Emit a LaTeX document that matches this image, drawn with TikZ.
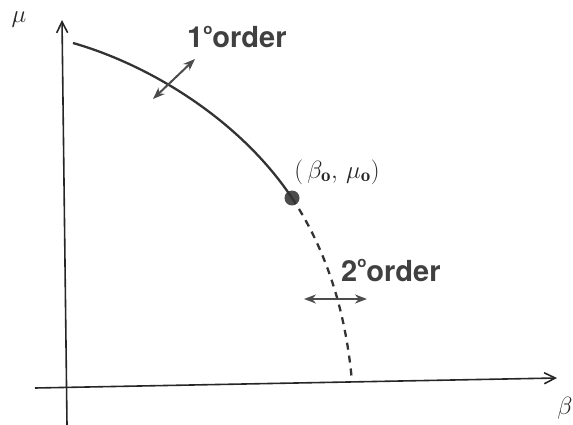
\documentclass[tikz,border=0pt]{standalone}
\usepackage{fontspec}
\newfontfamily\heros{TeX Gyre Heros}
\usetikzlibrary{arrows.meta}
\begin{document}
\begin{tikzpicture}[x=1pt,y=-1pt,
  axis/.style={line width=1.6pt,draw=black!85},
  curve/.style={line width=2.3pt,draw=black!80},
  dbl/.style={line width=2pt,draw=black!70,{Stealth[length=12pt,width=9pt]}-{Stealth[length=12pt,width=9pt]}},
  lab/.style={font=\heros\bfseries\fontsize{29}{29}\selectfont,text=black!75,inner sep=0pt},
  mlab/.style={inner sep=0pt,text=black!85}]
\useasboundingbox (0,0) rectangle (573,425);
% axes
\coordinate (ybot) at (67,425);
\coordinate (ytop) at (62,20);
\coordinate (xleft) at (35,388);
\coordinate (xright) at (557,378);
\draw[axis,-{Straight Barb[length=11pt,width=11pt]}] (ybot) -- (ytop);
\draw[axis,-{Straight Barb[length=11pt,width=11pt]}] (xleft) -- (xright);
\node[mlab,font=\fontsize{30}{30}\selectfont] (mu) at (19,20) {$\mu$};
\node[mlab,font=\fontsize{30}{30}\selectfont] (beta) at (565,408) {$\beta$};
% curve
\coordinate (cstart) at (73,43);
\coordinate (cend) at (352,382);
\node[circle,fill=black!70,minimum size=15pt,inner sep=0pt] (pt) at (292,198) {};
\draw[curve] (cstart) .. controls (150,65) and (240,120) .. (pt.center);
\draw[curve,dash pattern=on 7pt off 6pt] (pt.center) .. controls (320,240) and (345,300) .. (cend);
% first order arrow
\coordinate (a1) at (153,99);
\coordinate (a2) at (195,59);
\draw[dbl] (a1) -- (a2);
\node[lab,anchor=base west] (o1) at (187,48) {1\raisebox{0.45em}{\fontsize{15}{15}\selectfont o}order};
% second order arrow
\coordinate (b1) at (304,299);
\coordinate (b2) at (367,299);
\draw[dbl] (b1) -- (b2);
\node[lab,anchor=base west] (o2) at (341,281) {2\raisebox{0.45em}{\fontsize{15}{15}\selectfont o}order};
% point label
\node[mlab,font=\fontsize{27}{27}\selectfont] (p0) at (337,172) {$(\,\beta_{\mathbf{o}},\,\mu_{\mathbf{o}})$};
\end{tikzpicture}
\end{document}
